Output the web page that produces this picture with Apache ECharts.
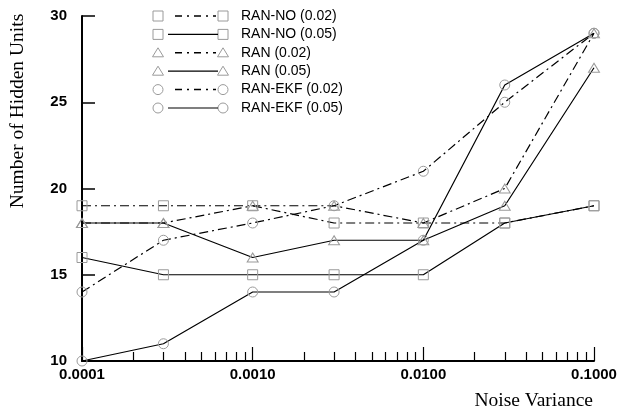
<!DOCTYPE html>
<html>
<head>
<meta charset="utf-8">
<script src="https://cdn.jsdelivr.net/npm/echarts@6/dist/echarts.min.js"></script>
<style>
html, body {margin: 0; background: #fff;}
#chart {width: 621px; height: 412px;}
</style>
</head>
<body>
<div id="chart"></div>
<script>
// noise variance (x) and hidden units per method / threshold
const variance = [0.0001, 0.0003, 0.001, 0.003, 0.01, 0.03, 0.1];
const ranNo02 = [19, 19, 19, 18, 18, 18, 19];
const ranNo05 = [16, 15, 15, 15, 15, 18, 19];
const ran02 = [18, 18, 19, 19, 18, 20, 29];
const ran05 = [18, 18, 16, 17, 17, 19, 27];
const ekf02 = [14, 17, 18, 19, 21, 25, 29];
const ekf05 = [10, 11, 14, 14, 17, 26, 29];

const series_names = ['RAN-NO (0.02)', 'RAN-NO (0.05)', 'RAN (0.02)', 'RAN (0.05)', 'RAN-EKF (0.02)', 'RAN-EKF (0.05)'];
const series_values = [ranNo02, ranNo05, ran02, ran05, ekf02, ekf05];
const series_symbols = ['rect', 'rect', 'triangle', 'triangle', 'circle', 'circle'];
const series_dashed = [true, false, true, false, true, false];

const x_tick_labels = {0.0001: '0.0001', 0.001: '0.0010', 0.01: '0.0100', 0.1: '0.1000'};
const x_minor_ticks = [0.0002, 0.0003, 0.0004, 0.0005, 0.0006, 0.0007, 0.0008, 0.0009,
                       0.002, 0.003, 0.004, 0.005, 0.006, 0.007, 0.008, 0.009,
                       0.02, 0.03, 0.04, 0.05, 0.06, 0.07, 0.08, 0.09];

const dash_dot = [9, 4, 2, 4];
const sym_color = '#9a9a9a';

var chartDom = document.getElementById('chart');
var myChart = echarts.init(chartDom);

var series = series_values.map((vals, i) => ({
	name: series_names[i], type: 'line',
	data: vals.map((v, j) => [variance[j], v]),
	symbol: series_symbols[i], symbolSize: series_symbols[i] == 'triangle' ? [11, 9] : 10,
	lineStyle: {color: '#000', width: 1.2, type: series_dashed[i] ? dash_dot : 'solid'},
	itemStyle: {color: 'rgba(0,0,0,0)', borderColor: sym_color, borderWidth: 1},
	emphasis: {disabled: true}, animation: false,
}));

// hand drawn legend: marker - line - marker, then label
var legend_items = [];
series_names.forEach((name, i) => {
	var y = 16 + i * 18.4;
	var mk = (cx) => {
		var s = {style: {fill: 'none', stroke: sym_color, lineWidth: 1}};
		if (series_symbols[i] == 'rect') return Object.assign(s, {type: 'rect', shape: {x: cx - 5, y: y - 5, width: 10, height: 10}});
		if (series_symbols[i] == 'circle') return Object.assign(s, {type: 'circle', shape: {cx: cx, cy: y, r: 5}});
		return Object.assign(s, {type: 'polygon', shape: {points: [[cx, y - 5], [cx + 5.5, y + 4], [cx - 5.5, y + 4]]}});
	};
	legend_items.push(mk(158), mk(223));
	if (series_dashed[i]) {
		legend_items.push({type: 'line', shape: {x1: 175, y1: y, x2: 216, y2: y}, style: {stroke: '#000', lineWidth: 1.5, lineDash: [7, 5, 2, 5]}});
	} else {
		legend_items.push({type: 'line', shape: {x1: 168, y1: y, x2: 218, y2: y}, style: {stroke: '#000', lineWidth: 1.2}});
	}
	legend_items.push({type: 'text', x: 241, y: y, style: {text: name, fontFamily: 'Arial', fontSize: 14, fill: '#000', verticalAlign: 'middle'}});
});

var option = {
	animation: false,
	grid: {left: 77, right: 27, top: 16, bottom: 51},
	xAxis: [
		{type: 'log', logBase: 10, min: 0.0001, max: 0.1,
		 name: 'Noise Variance', nameLocation: 'end', nameGap: -1,
		 nameTextStyle: {fontFamily: 'Times New Roman', fontSize: 19.5, color: '#000', align: 'right', verticalAlign: 'top', padding: [30, 0, 0, 0]},
		 axisLine: {lineStyle: {color: '#000', width: 2}},
		 axisTick: {inside: true, length: 14, lineStyle: {color: '#000', width: 1.2}},
		 axisLabel: {margin: 6, fontFamily: 'Arial', fontWeight: 'bold', fontSize: 15, color: '#000', formatter: v => x_tick_labels[v] || ''},
		 splitLine: {show: false}, minorTick: {show: false}},
		{type: 'log', logBase: 10, min: 0.0001, max: 0.1, position: 'bottom',
		 axisLine: {show: false},
		 axisTick: {inside: true, length: 9, customValues: x_minor_ticks, lineStyle: {color: '#000', width: 1.2}},
		 axisLabel: {show: false}, splitLine: {show: false}},
	],
	yAxis: {
		type: 'value', min: 10, max: 30, interval: 5,
		name: 'Number of Hidden Units', nameLocation: 'middle', nameGap: 54,
		nameTextStyle: {fontFamily: 'Times New Roman', fontSize: 19.5, color: '#000', padding: [0, 0, 0, 155]},
		axisLine: {show: true, lineStyle: {color: '#000', width: 2}},
		axisTick: {show: true, inside: true, length: 13, lineStyle: {color: '#000', width: 1.5}},
		axisLabel: {margin: 15, fontFamily: 'Arial', fontWeight: 'bold', fontSize: 15, color: '#000'},
		splitLine: {show: false},
	},
	graphic: legend_items,
	series: series,
};
option && myChart.setOption(option);
</script>
</body>
</html>
